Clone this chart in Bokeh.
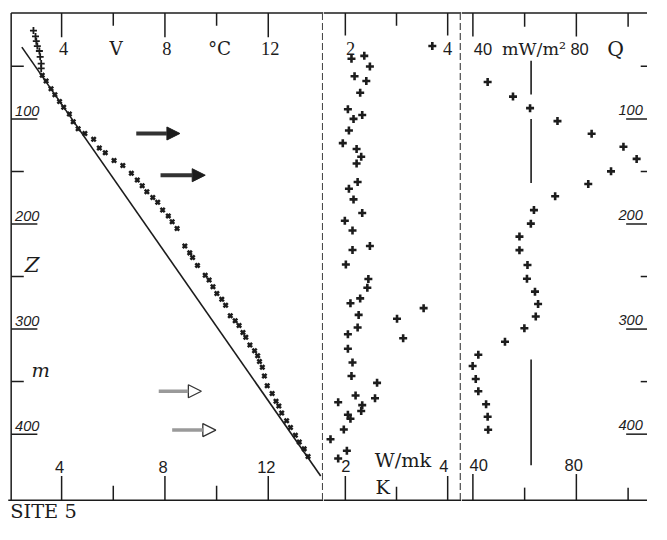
from bokeh.plotting import figure
from bokeh.layouts import row
from bokeh.models import Range1d, Arrow, NormalHead, ColumnDataSource
from bokeh.core.properties import value
from bokeh.embed import file_html
from bokeh.resources import INLINE

# ---------------- data ----------------
# temperature log (deg C) vs depth (m)
temp_plus_t = [2.91, 2.99, 3.02, 3.06, 3.14, 3.17, 3.21, 3.21]
temp_plus_z = [16.0, 21.5, 26.1, 30.7, 35.4, 40.9, 47.4, 52.0]

temp_x_t = [3.25, 3.40, 3.59, 3.74, 3.92, 4.08, 4.30, 4.45, 4.64, 4.90, 5.24, 5.46,
            5.69, 6.03, 6.37, 6.70, 6.93, 7.12, 7.30, 7.53, 7.72, 7.91, 8.13, 8.28,
            8.47, 8.77, 8.96, 9.07, 9.26, 9.56, 9.71, 9.86, 10.01, 10.20, 10.35,
            10.53, 10.72, 10.87, 11.02, 11.13, 11.29, 11.47, 11.59, 11.66, 11.77,
            11.85, 11.96, 12.15, 12.30, 12.41, 12.52, 12.71, 12.86, 13.05, 13.20,
            13.39, 13.54]
temp_x_z = [58.4, 64.0, 71.4, 77.0, 83.4, 88.9, 95.4, 102.8, 109.3, 113.9, 119.4, 127.7,
            132.3, 139.7, 144.3, 151.7, 158.2, 163.7, 169.3, 174.8, 179.4, 186.8, 192.3,
            197.9, 204.4, 221.0, 227.5, 232.0, 239.4, 248.7, 253.3, 259.7, 266.2, 271.7,
            277.3, 287.4, 292.1, 296.7, 303.2, 307.8, 315.2, 320.7, 325.3, 330.9, 336.4,
            344.7, 353.9, 361.3, 368.7, 373.3, 379.8, 387.2, 393.6, 401.0, 407.5, 414.0,
            421.3]

fit_t = [2.46, 14.03]
fit_z = [31.7, 439.8]

arrow_z = [113.9, 153.6, 359.2, 396.1]
arrow_t_start = [6.89, 7.83, 7.76, 8.28]
arrow_t_end = [8.58, 9.56, 9.41, 9.97]
arrow_filled = [True, True, False, False]

# thermal conductivity (W/mK)
cond_k = [3.70, 2.37, 2.12, 2.48, 2.18, 2.41, 2.29, 2.05, 2.33, 2.16, 2.07, 1.95, 2.22,
          2.31, 2.22, 2.24, 2.07, 2.16, 2.33, 1.99, 2.14, 2.48, 2.14, 2.01, 2.45, 2.43,
          2.29, 2.10, 3.53, 2.26, 3.01, 2.24, 2.05, 3.13, 2.05, 2.14, 2.12, 2.62, 2.20,
          2.58, 1.86, 2.33, 2.31, 2.05, 2.10, 1.97, 1.71, 2.03, 1.86]
cond_z = [30.7, 40.0, 42.8, 50.1, 59.4, 64.0, 75.1, 90.8, 96.3, 100.0, 111.1, 123.1, 128.6,
          136.0, 142.5, 160.0, 166.5, 176.6, 189.6, 197.0, 206.2, 221.0, 224.7, 238.5,
          252.4, 260.7, 270.8, 275.4, 280.1, 286.5, 290.2, 298.5, 305.0, 308.7, 318.8,
          331.8, 344.7, 351.2, 363.2, 365.9, 369.7, 372.4, 377.9, 381.6, 385.3, 395.5,
          404.8, 415.8, 423.2]

# heat flow (mW/m2)
flux_q = [45.7, 55.5, 62.1, 72.7, 85.9, 98.2, 103.3, 93.4, 84.6, 71.8, 63.6, 62.4, 58.0,
          58.0, 61.1, 60.9, 64.0, 65.2, 64.3, 59.9, 52.4, 42.1, 39.9, 41.1, 42.1, 45.1,
          45.7, 45.9]
flux_z = [64.9, 78.8, 89.8, 102.1, 114.1, 126.5, 138.1, 149.9, 161.9, 173.6, 186.8, 199.7,
          212.0, 224.9, 239.1, 252.1, 264.4, 276.1, 288.1, 299.2, 312.1, 324.4, 335.2,
          347.5, 359.2, 371.5, 383.5, 395.8]

mean_q = 62.5
mean_z_start = [44.6, 100.0, 329.0]
mean_z_end = [76.9, 160.9, 429.6]

# ticks / labels
t_major = [4, 8, 12]
t_minor = [6, 10]
t_top_digits = ["4", "8", "12"]
t_top_words = ["V", "°C"]
t_bottom_labels = ["4", "8", "12"]

depth_major = [100, 200, 300, 400]
depth_minor = [50, 150, 250, 350]
depth_labels = ["100", "200", "300", "400"]

k_major = [2, 4]
k_minor = [3]
k_labels = ["2", "4"]

q_major = [40, 80]
q_minor = [60, 100]
q_labels = ["40", "80"]

# ---------------- geometry (pixel scales of the drawing) ----------------
W, H = 647, 524
SX, SY = W / 667.0, H / 540.0
Z_PX = 1.083                      # drawing pixels per metre


def t_at(px):   # temperature at a horizontal drawing position
    return 4 + (px - 63) / 26.63


def k_at(px):
    return 2 + (px - 355.5) / 52.75


def q_at(px):
    return 40 + (px - 487) / 2.6667


def z_at(py):   # depth at a vertical drawing position
    return (py - 13.7) / Z_PX


INK = "#1c1c1c"
SEP = "#4a4a4a"
TOP, BOT = 13, 515                # frame lines of the drawing
z_top, z_bot = z_at(TOP), z_at(BOT)
yr = Range1d(start=z_at(540), end=z_at(0))

split1 = round(333 * SX)          # panel boundaries in output pixels
split2 = round(475.25 * SX)


def make_fig(width, xr):
    p = figure(width=width, height=H, x_range=xr, y_range=yr,
               x_axis_type=None, y_axis_type=None,
               toolbar_location=None, output_backend="svg",
               min_border=0)
    p.outline_line_color = None
    p.background_fill_color = "white"
    p.border_fill_color = "white"
    return p


def seg(p, x0, y0, x1, y1, width=1.5, color=INK, dash="solid"):
    p.segment(x0, y0, x1, y1, line_color=color, line_width=width, line_dash=dash)


def label(p, xs, ys, texts, font, size, align="center", style="normal"):
    # ys: wanted baseline depth; the renderer sets text about 0.35 em low
    lift = 0.35 * size / Z_PX
    p.text(xs, [y - lift for y in ys], text=texts, text_align=align,
           text_baseline="alphabetic", text_font=value(font),
           text_font_size=f"{size * SY:.1f}px", text_font_style=style,
           text_color=INK)


# ---- panel 1 : temperature ----
xr1 = Range1d(t_at(0), t_at(split1 / SX))
p1 = make_fig(split1, xr1)
t_left, t_sep = t_at(11), t_at(332)
seg(p1, [t_left], [z_top], [xr1.end], [z_top])
seg(p1, [t_at(8)], [z_bot], [xr1.end], [z_bot])
seg(p1, [t_left], [z_top], [t_left], [z_bot])
seg(p1, [t_sep], [z_top], [t_sep], [z_bot], width=1.2, color=SEP, dash="7 3")
seg(p1, t_major, [z_top] * 3, t_major, [z_at(TOP + 25)] * 3)
seg(p1, t_minor, [z_top] * 2, t_minor, [z_at(TOP + 13)] * 2)
seg(p1, t_major, [z_bot] * 3, t_major, [z_at(BOT - 25)] * 3)
seg(p1, t_minor, [z_bot] * 2, t_minor, [z_at(BOT - 15)] * 2)
seg(p1, [t_left] * 4, depth_major, [t_at(38)] * 4, depth_major)
seg(p1, [t_left] * 4, depth_minor, [t_at(24)] * 4, depth_minor)

p1.line(fit_t, fit_z, line_color=INK, line_width=1.6)
p1.scatter(temp_plus_t, temp_plus_z, marker="cross", size=7, line_width=1.8, color=INK)
p1.scatter(temp_x_t, temp_x_z, marker="x", size=6, line_width=2.5, color=INK)

solid = [i for i, f in enumerate(arrow_filled) if f]
hollow = [i for i, f in enumerate(arrow_filled) if not f]
src_solid = ColumnDataSource(dict(x0=[arrow_t_start[i] for i in solid],
                                  x1=[arrow_t_end[i] for i in solid],
                                  y=[arrow_z[i] for i in solid]))
src_hollow = ColumnDataSource(dict(x0=[arrow_t_start[i] for i in hollow],
                                   x1=[arrow_t_end[i] for i in hollow],
                                   y=[arrow_z[i] for i in hollow]))
p1.add_layout(Arrow(end=NormalHead(size=13, fill_color=INK, line_color=INK),
                    x_start="x0", y_start="y", x_end="x1", y_end="y",
                    source=src_solid, line_width=4, line_color="#333333"))
p1.add_layout(Arrow(end=NormalHead(size=13, fill_color="white", line_color="#333333",
                                   line_width=1.3),
                    x_start="x0", y_start="y", x_end="x1", y_end="y",
                    source=src_hollow, line_width=3.5, line_color="#9a9a9a"))

top_base, bot_base = z_at(56), z_at(487)
label(p1, [t + 2 / 26.63 for t in t_major], [top_base] * 3, t_top_digits,
      "Liberation Serif", 19)
label(p1, [t + 3 / 26.63 for t in t_minor], [top_base] * 2, t_top_words,
      "DejaVu Serif", 19)
label(p1, [t - 2 / 26.63 for t in t_major], [bot_base] * 3, t_bottom_labels,
      "Liberation Sans", 17)
label(p1, [t_at(15)] * 4, [d - 3 / Z_PX for d in depth_major], depth_labels,
      "Liberation Sans", 15, align="left", style="italic")
label(p1, [t_at(25)], [z_at(280)], ["Z"], "DejaVu Serif", 22, align="left",
      style="italic")
label(p1, [t_at(32)], [z_at(388)], ["m"], "DejaVu Serif", 20, align="left",
      style="italic")
label(p1, [t_at(10)], [z_at(534)], ["SITE 5"], "DejaVu Serif", 20, align="left")

# ---- panel 2 : conductivity ----
xr2 = Range1d(k_at(split1 / SX), k_at(split2 / SX))
p2 = make_fig(split2 - split1, xr2)
k_sep = k_at(474)
seg(p2, [xr2.start], [z_top], [xr2.end], [z_top])
seg(p2, [xr2.start], [z_bot], [xr2.end], [z_bot])
seg(p2, [k_sep], [z_top], [k_sep], [z_bot], width=1.2, color=SEP, dash="7 3")
seg(p2, k_major, [z_top] * 2, k_major, [z_at(TOP + 23)] * 2)
seg(p2, k_minor, [z_top], k_minor, [z_at(TOP + 13)])
seg(p2, k_major, [z_bot] * 2, k_major, [z_at(BOT - 25)] * 2)
seg(p2, k_minor, [z_bot], k_minor, [z_at(BOT - 14)])

p2.scatter(cond_k, cond_z, marker="cross", size=8, line_width=2.6, color=INK)
label(p2, [k_at(361), k_at(461)], [top_base] * 2, k_labels, "Liberation Serif", 19)
label(p2, [k_at(356), k_at(457)], [z_at(486)] * 2, k_labels, "Liberation Sans", 17)
label(p2, [k_at(415)], [z_at(481.5)], ["W/mk"], "DejaVu Serif", 20)
label(p2, [k_at(394)], [z_at(509)], ["K"], "DejaVu Serif", 20)

# ---- panel 3 : heat flow ----
xr3 = Range1d(q_at(split2 / SX), q_at(667))
p3 = make_fig(W - split2, xr3)
q_edge = q_at(672)
seg(p3, [xr3.start], [z_top], [xr3.end], [z_top])
seg(p3, [xr3.start], [z_bot], [xr3.end], [z_bot])
seg(p3, q_major, [z_top] * 2, q_major, [z_at(TOP + 24)] * 2)
seg(p3, q_minor, [z_top] * 2, q_minor, [z_at(TOP + 14)] * 2)
seg(p3, q_major, [z_bot] * 2, q_major, [z_at(BOT - 27)] * 2)
seg(p3, q_minor, [z_bot] * 2, q_minor, [z_at(BOT - 13)] * 2)
seg(p3, [q_edge] * 4, depth_major, [q_at(645)] * 4, depth_major)
seg(p3, [q_edge] * 4, depth_minor, [q_at(660)] * 4, depth_minor)

p3.segment([mean_q] * 3, mean_z_start, [mean_q] * 3, mean_z_end,
           line_color=INK, line_width=1.6)
p3.scatter(flux_q, flux_z, marker="cross", size=8, line_width=2.6, color=INK)
label(p3, [q_at(488)], [top_base], ["40"], "Liberation Sans", 17, align="left")
label(p3, [q_at(550)], [top_base], ["mW/m²"], "DejaVu Serif", 18)
label(p3, [q_at(597)], [top_base], ["80"], "Liberation Sans", 17)
label(p3, [q_at(634)], [z_at(57)], ["Q"], "DejaVu Serif", 21)
label(p3, [q_at(493), q_at(591)], [z_at(485)] * 2, q_labels, "Liberation Sans", 17)
label(p3, [q_at(637)] * 4, [d - 4 / Z_PX for d in depth_major], depth_labels,
      "Liberation Sans", 15, align="left", style="italic")

layout = row(p1, p2, p3)
open("out.html", "w").write(file_html(layout, INLINE))
